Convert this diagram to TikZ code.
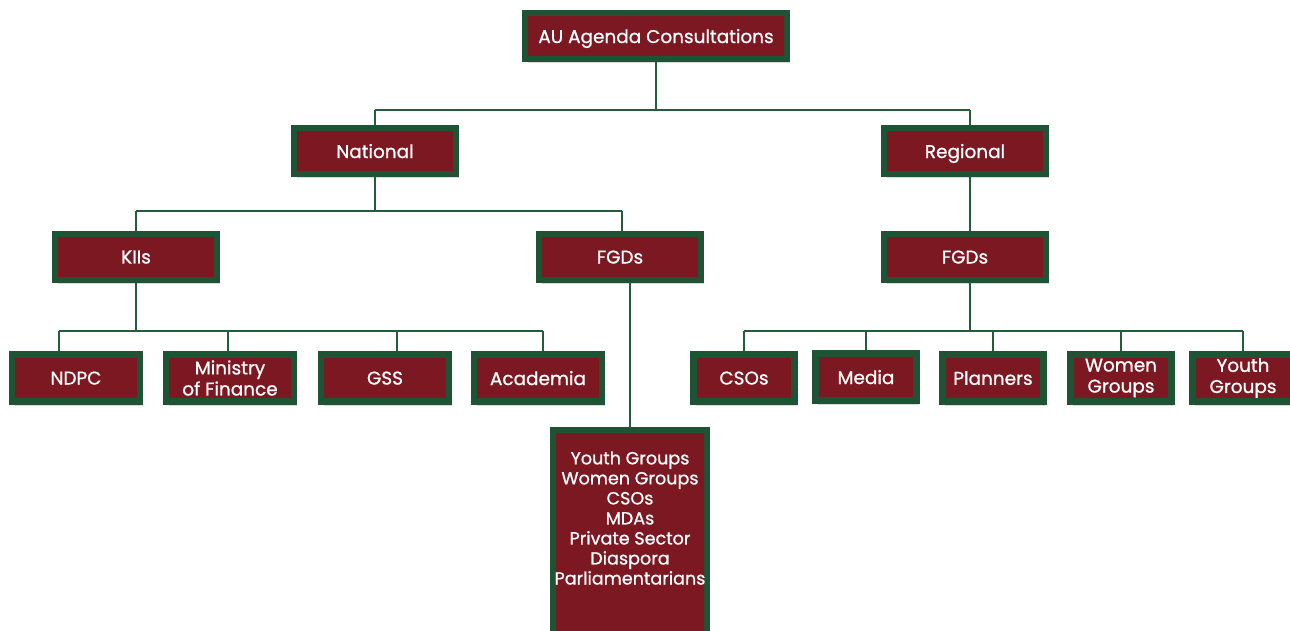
\documentclass[tikz,border=0pt]{standalone}
\usepackage{fontspec}
\setmainfont{Poppins}[FakeBold=0.9,AutoFakeBold=0.9]
\usetikzlibrary{shadows}
\definecolor{maroon}{RGB}{123,24,33}
\definecolor{dgreen}{RGB}{30,84,52}
\definecolor{lgreen}{RGB}{36,92,60}
\tikzset{
  box/.style={draw=dgreen, fill=maroon, line width=3.6pt, text=white,
    font=\fontsize{10.5}{12}\selectfont\bfseries, align=center, inner sep=0pt,
    drop shadow={shadow xshift=1.5pt, shadow yshift=-2.5pt, opacity=0.3}},
  one/.style={text depth=0pt},
  bigbox/.style={box, minimum width=3.24cm, minimum height=0.92cm},
  smallbox/.style={box, minimum width=2.56cm, minimum height=0.94cm},
  tinybox/.style={box, minimum width=2.02cm, minimum height=0.94cm},
  conn/.style={draw=lgreen, line width=1.1pt},
  listtext/.style={text=white, font=\fontsize{10}{11.4}\selectfont\bfseries, align=center, inner sep=0pt}
}
\begin{document}
\begin{tikzpicture}[x=0.02cm,y=-0.02cm]
\useasboundingbox (0,0) rectangle (1290,630);
\clip (0,0) rectangle (1290,630);
% junction points
\coordinate (j1) at (656,110);
\coordinate (j1l) at (375,110);
\coordinate (j1r) at (970,110);
\coordinate (j2) at (375,211);
\coordinate (j2l) at (136,211);
\coordinate (j2r) at (622,211);
\coordinate (j3) at (136,331);
\coordinate (j3a) at (59,331);
\coordinate (j3b) at (228,331);
\coordinate (j3c) at (397,331);
\coordinate (j3d) at (543,331);
\coordinate (j4) at (970,331);
\coordinate (j4a) at (744,331);
\coordinate (j4b) at (866,331);
\coordinate (j4c) at (993,331);
\coordinate (j4d) at (1121,331);
\coordinate (j4e) at (1243,331);

% nodes
\node[box, one, minimum width=5.24cm, minimum height=0.92cm] (top) at (656,36) {AU Agenda Consultations};
\node[bigbox, one] (nat) at (375,151) {National};
\node[bigbox, one] (reg) at (965,151) {Regional};
\node[bigbox, one] (kii) at (136,257) {KIIs};
\node[bigbox, one] (fgdn) at (620,257) {FGDs};
\node[bigbox, one] (fgdr) at (965,257) {FGDs};
\node[smallbox, one] (ndpc) at (76,378) {NDPC};
\node[smallbox] (mof) at (230,378) {Ministry\\of Finance};
\node[smallbox, one] (gss) at (385,378) {GSS};
\node[smallbox, one] (acad) at (538,378) {Academia};
\node[tinybox, one] (csos) at (744,378) {CSOs};
\node[tinybox, one] (media) at (866,377) {Media};
\node[tinybox, one] (plan) at (993,378) {Planners};
\node[tinybox] (women) at (1121,378) {Women\\Groups};
\node[tinybox] (youth) at (1243,378) {Youth\\Groups};
\node[box, minimum width=3.08cm, minimum height=4.3cm, anchor=north] (list) at (630,427) {};
\node[listtext] (listtxt) at (630,518) {Youth Groups\\Women Groups\\CSOs\\MDAs\\Private Sector\\Diaspora\\Parliamentarians};

% connectors
\draw[conn] (top.south) -- (j1);
\draw[conn] (j1l) -- (j1r);
\draw[conn] (j1l) -- (nat.north);
\draw[conn] (j1r) -- (j1r |- reg.north);
\draw[conn] (nat.south) -- (j2);
\draw[conn] (j2l) -- (j2r);
\draw[conn] (j2l) -- (kii.north);
\draw[conn] (j2r) -- (j2r |- fgdn.north);
\draw[conn] (reg.south -| j1r) -- (fgdr.north -| j1r);
\draw[conn] (kii.south) -- (j3);
\draw[conn] (j3a) -- (j3d);
\draw[conn] (j3a) -- (j3a |- ndpc.north);
\draw[conn] (j3b) -- (j3b |- mof.north);
\draw[conn] (j3c) -- (j3c |- gss.north);
\draw[conn] (j3d) -- (j3d |- acad.north);
\draw[conn] (fgdn.south -| list.north) -- (list.north);
\draw[conn] (fgdr.south -| j4) -- (j4);
\draw[conn] (j4a) -- (j4e);
\draw[conn] (j4a) -- (j4a |- csos.north);
\draw[conn] (j4b) -- (j4b |- media.north);
\draw[conn] (j4c) -- (j4c |- plan.north);
\draw[conn] (j4d) -- (j4d |- women.north);
\draw[conn] (j4e) -- (j4e |- youth.north);
\end{tikzpicture}
\end{document}
